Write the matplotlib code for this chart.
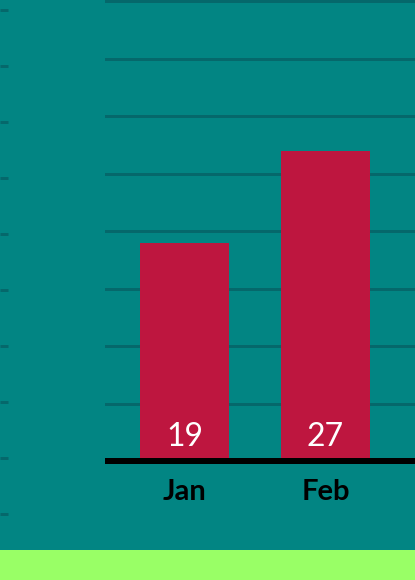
import matplotlib
matplotlib.use("Agg")
import matplotlib.pyplot as plt
import numpy as np
from matplotlib.patches import Rectangle

categories = ["Jan", "Feb"]
values = [19, 27]
y_ticks = [0, 5, 10, 15, 20, 25, 30, 35, 40]

BG = "#028583"
GRID = "#05686b"
BAR = "#be163f"
GREEN = "#99ff66"

W, H = 415, 580
fig = plt.figure(figsize=(W / 100, H / 100), dpi=100)
fig.patch.set_facecolor(BG)

# green band at bottom
fig.patches.append(Rectangle((0, 0), 1, 30 / H, transform=fig.transFigure,
                             facecolor=GREEN, edgecolor="none", zorder=0))

# decorative left tick strip
axl = fig.add_axes([0, 0, 0.05, 1])
axl.set_facecolor("none")
for s in axl.spines.values():
    s.set_visible(False)
axl.set_ylim(H, 0)
axl.set_xlim(0, 1)
axl.set_yticks(np.arange(9.5, 520, 56))
axl.tick_params(axis="y", direction="in", length=8 * 0.72, width=3 * 0.72,
                color=GRID, labelleft=False)
axl.set_xticks([])

# main axes
left = 105 / W
bottom = (H - 461) / H
ax = fig.add_axes([left, bottom, 1 - left, 461 / H])
ax.set_facecolor("none")
x = np.arange(len(categories))
ax.set_xlim(-0.564, 1.635)
ax.set_ylim(0, 40.09)
ax.set_yticks(y_ticks)
ax.yaxis.grid(True, color=GRID, linewidth=3 * 0.72)
ax.set_axisbelow(True)
ax.tick_params(axis="y", length=0, labelleft=False)
for k in ["left", "right", "top"]:
    ax.spines[k].set_visible(False)
ax.spines["bottom"].set_linewidth(6 * 0.72)
ax.spines["bottom"].set_color("black")
ax.spines["bottom"].set_capstyle("butt")
ax.spines["bottom"].set_zorder(5)

ax.bar(x, values, width=89 / 141, color=BAR, zorder=3)
for xi, v in zip(x, values):
    ax.annotate(str(v), xy=(xi, 0), xytext=(0, 24 * 0.72), textcoords="offset points",
                ha="center", va="center", color="white", fontsize=23,
                family=["Lato", "DejaVu Sans"], zorder=4)

ax.set_xticks(x)
ax.set_xticklabels(categories, fontsize=21, fontweight="bold",
                   family=["Lato", "DejaVu Sans"], color="black")
ax.tick_params(axis="x", length=0, pad=13)

fig.savefig("out.png", dpi=100, facecolor=BG)
